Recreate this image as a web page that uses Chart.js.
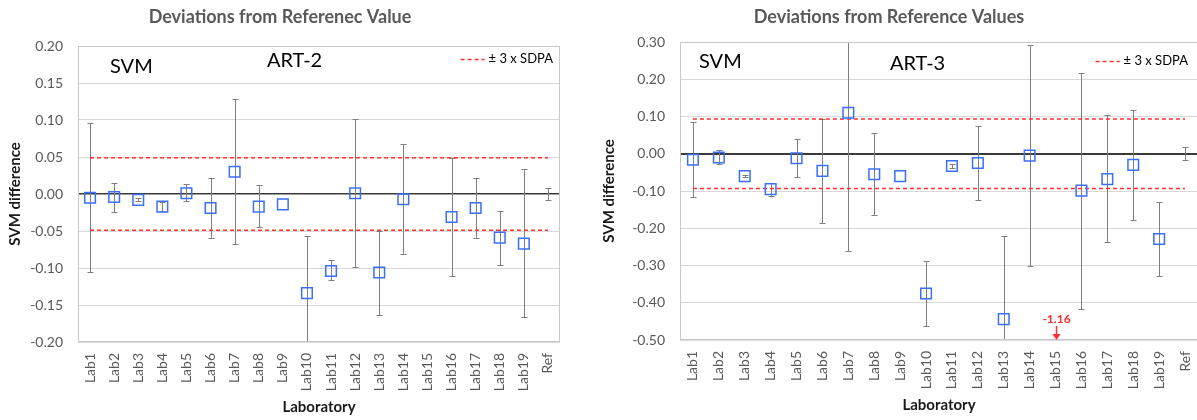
<!DOCTYPE html>
<html>
<head>
<meta charset="utf-8">
<title>Deviations from Reference Values</title>
<script src="https://cdn.jsdelivr.net/npm/chart.js@4.4.1/dist/chart.umd.min.js"></script>
<style>
  html, body { margin: 0; padding: 0; background: #fff; overflow: hidden; }
  body { width: 1197px; height: 420px; position: relative; }
  #left { position: absolute; left: 0; top: 0; }
  #right { position: absolute; left: 580px; top: 0; }
</style>
</head>
<body>
<canvas id="left" width="580" height="420"></canvas>
<canvas id="right" width="634" height="420"></canvas>
<script>
// Laboratories on the x axis
const labs = ['Lab1', 'Lab2', 'Lab3', 'Lab4', 'Lab5', 'Lab6', 'Lab7', 'Lab8', 'Lab9', 'Lab10',
              'Lab11', 'Lab12', 'Lab13', 'Lab14', 'Lab15', 'Lab16', 'Lab17', 'Lab18', 'Lab19', 'Ref'];

// ART-2 : SVM difference, error bar ends, limit
const art2Value = [-0.005, -0.004, -0.008, -0.017, 0.001, -0.019, 0.030, -0.017, -0.014, -0.134,
                   -0.104, 0.001, -0.106, -0.007, null, -0.031, -0.019, -0.059, -0.067, null];
const art2Upper = [0.096, 0.015, -0.006, -0.011, 0.013, 0.022, 0.128, 0.012, null, -0.057,
                   -0.089, 0.101, -0.050, 0.067, null, 0.049, 0.022, -0.023, 0.034, 0.008];
const art2Lower = [-0.105, -0.024, -0.010, -0.023, -0.009, -0.059, -0.068, -0.044, null, -0.25,
                   -0.116, -0.099, -0.163, -0.081, null, -0.111, -0.060, -0.096, -0.166, -0.008];
const art2Sdpa = 0.049;
const art2Axis = [-0.20, 0.20, 0.05];   // min, max, step

// ART-3 : SVM difference, error bar ends, limit
const art3Value = [-0.016, -0.010, -0.060, -0.095, -0.012, -0.046, 0.110, -0.055, -0.060, -0.375,
                   -0.033, -0.025, -0.444, -0.005, null, -0.099, -0.068, -0.030, -0.229, null];
const art3Upper = [0.084, 0.009, -0.058, -0.079, 0.040, 0.093, 0.40, 0.056, null, -0.288,
                   -0.027, 0.074, -0.220, 0.291, null, 0.217, 0.104, 0.118, -0.129, 0.019];
const art3Lower = [-0.115, -0.028, -0.062, -0.113, -0.062, -0.187, -0.260, -0.164, null, -0.462,
                   -0.039, -0.124, -0.60, -0.300, null, -0.416, -0.238, -0.178, -0.327, -0.018];
const art3Sdpa = 0.093;
const art3Axis = [-0.50, 0.30, 0.10];
const art3OffScale = { lab: 'Lab15', value: -1.16 };

Chart.defaults.font.family = 'Lato';
Chart.defaults.animation = false;

const BLUE = '#3a6ff7';
const RED = '#ff2e2e';

// error bars, plot frame, in-plot texts and the off-scale marker
function panelPlugin(p) {
  return {
    id: 'panel',
    beforeDatasetsDraw(chart) {
      const { ctx, chartArea: a, scales: { x, y } } = chart;
      ctx.save();
      ctx.beginPath();
      ctx.rect(a.left, a.top, a.width, a.height);
      ctx.clip();
      ctx.strokeStyle = '#7f7f7f';
      ctx.lineWidth = 1;
      p.upper.forEach((hi, i) => {
        const lo = p.lower[i];
        if (hi == null || lo == null) return;
        const px = Math.round(x.getPixelForValue(i)) + 0.5;
        const y1 = Math.round(y.getPixelForValue(hi)) + 0.5;
        const y2 = Math.round(y.getPixelForValue(lo)) + 0.5;
        ctx.beginPath();
        ctx.moveTo(px, y1); ctx.lineTo(px, y2);
        ctx.moveTo(px - 3, y1); ctx.lineTo(px + 3, y1);
        ctx.moveTo(px - 3, y2); ctx.lineTo(px + 3, y2);
        ctx.stroke();
      });
      ctx.restore();
    },
    afterDraw(chart) {
      const { ctx, chartArea: a, scales: { x } } = chart;
      ctx.save();
      // plot frame
      ctx.strokeStyle = '#c9c9c9';
      ctx.lineWidth = 1;
      ctx.strokeRect(Math.round(a.left) + 0.5, Math.round(a.top) + 0.5,
                     Math.round(a.width) - 1, Math.round(a.height) - 1);

      // SVM / ART labels
      ctx.fillStyle = '#000';
      ctx.font = '20px Lato';
      ctx.textBaseline = 'alphabetic';
      ctx.textAlign = 'left';
      ctx.fillText('SVM', a.left + p.svmPos[0], a.top + p.svmPos[1]);
      ctx.fillText(p.name, a.left + p.namePos[0], a.top + p.namePos[1]);

      // legend
      ctx.font = '13px Lato';
      ctx.textAlign = 'right';
      ctx.textBaseline = 'middle';
      const lx = a.right - p.legend[0], ly = a.top + p.legend[1];
      const tw = ctx.measureText('± 3 x SDPA').width;
      ctx.fillText('± 3 x SDPA', lx, ly);
      ctx.strokeStyle = RED;
      ctx.lineWidth = 1.5;
      ctx.setLineDash([4, 3]);
      ctx.beginPath();
      ctx.moveTo(lx - tw - 28, ly + 0.5);
      ctx.lineTo(lx - tw - 4, ly + 0.5);
      ctx.stroke();
      ctx.setLineDash([]);

      // value beyond the axis
      if (p.offScale) {
        const px = Math.round(x.getPixelForValue(labs.indexOf(p.offScale.lab))) + 0.5;
        ctx.fillStyle = RED;
        ctx.strokeStyle = RED;
        ctx.font = 'bold 12px Lato';
        ctx.textAlign = 'center';
        ctx.fillText(p.offScale.value.toFixed(2), px, a.bottom - 21);
        ctx.lineWidth = 1.5;
        ctx.beginPath();
        ctx.moveTo(px, a.bottom - 14);
        ctx.lineTo(px, a.bottom - 5);
        ctx.stroke();
        ctx.beginPath();
        ctx.moveTo(px - 4, a.bottom - 6);
        ctx.lineTo(px + 4, a.bottom - 6);
        ctx.lineTo(px, a.bottom);
        ctx.closePath();
        ctx.fill();
      }
      ctx.restore();
    }
  };
}

function buildPanel(id, p) {
  const [yMin, yMax, yStep] = p.axis;
  const isZero = v => Math.abs(v) < 1e-9;
  new Chart(document.getElementById(id), {
    type: 'line',
    plugins: [panelPlugin(p)],
    data: {
      labels: labs,
      datasets: [
        {
          label: p.name,
          data: p.value,
          showLine: false,
          pointStyle: 'rect',
          pointRadius: 7.5,
          pointBorderWidth: 1.5,
          borderColor: BLUE,
          backgroundColor: 'rgba(0,0,0,0)'
        },
        {
          label: '± 3 x SDPA',
          data: labs.map(() => p.sdpa),
          borderColor: RED,
          borderWidth: 1.5,
          borderDash: [4, 3],
          pointRadius: 0,
          fill: false
        },
        {
          label: '- 3 x SDPA',
          data: labs.map(() => -p.sdpa),
          borderColor: RED,
          borderWidth: 1.5,
          borderDash: [4, 3],
          pointRadius: 0,
          fill: false
        }
      ]
    },
    options: {
      responsive: false,
      layout: { padding: { left: 0, right: p.padRight, top: 0, bottom: 0 } },
      plugins: {
        legend: { display: false },
        tooltip: { enabled: false },
        title: {
          display: true,
          text: p.title,
          color: '#595959',
          font: { size: 18, weight: 'bold' },
          padding: { top: 6, bottom: p.titleGap }
        }
      },
      scales: {
        x: {
          type: 'category',
          offset: true,
          grid: { display: false, drawTicks: false },
          border: { display: false },
          ticks: {
            autoSkip: false,
            minRotation: 90,
            maxRotation: 90,
            padding: 11,
            color: '#595959',
            font: { size: 14 }
          },
          title: {
            display: true,
            text: 'Laboratory',
            color: '#1a1a1a',
            font: { size: 15, weight: 'bold' },
            padding: { top: 0, bottom: p.xTitleGap }
          },
          afterFit: s => { s.height = p.xHeight; }
        },
        y: {
          min: yMin,
          max: yMax,
          border: { display: false },
          grid: {
            drawTicks: false,
            color: c => isZero(c.tick.value) ? '#3a3a3a' : '#d9d9d9',
            lineWidth: c => isZero(c.tick.value) ? p.zeroWidth : 1
          },
          ticks: {
            stepSize: yStep,
            padding: 15,
            color: '#595959',
            font: { size: 14 },
            callback: v => isZero(v) ? '0.00' : v.toFixed(2)
          },
          title: {
            display: true,
            text: 'SVM difference',
            color: '#1a1a1a',
            font: { size: 15, weight: 'bold' },
            padding: { top: p.yTitleGap, bottom: 0 }
          },
          afterFit: s => { s.width = p.yWidth; }
        }
      }
    }
  });
}

buildPanel('left', {
  title: 'Deviations from Referenec Value',
  name: 'ART-2',
  value: art2Value, upper: art2Upper, lower: art2Lower,
  sdpa: art2Sdpa, axis: art2Axis,
  padRight: 20, titleGap: 18.4, xHeight: 78, yWidth: 78,
  xTitleGap: 4, yTitleGap: 6, zeroWidth: 1.5,
  svmPos: [32, 27], namePos: [189, 21], legend: [7, 13]
});

buildPanel('right', {
  title: 'Deviations from Reference Values',
  name: 'ART-3',
  value: art3Value, upper: art3Upper, lower: art3Lower,
  sdpa: art3Sdpa, axis: art3Axis, offScale: art3OffScale,
  padRight: 16, titleGap: 14.4, xHeight: 80, yWidth: 100,
  xTitleGap: 6, yTitleGap: 20, zeroWidth: 2,
  svmPos: [19, 26], namePos: [210, 28], legend: [10, 19]
});
</script>
</body>
</html>
